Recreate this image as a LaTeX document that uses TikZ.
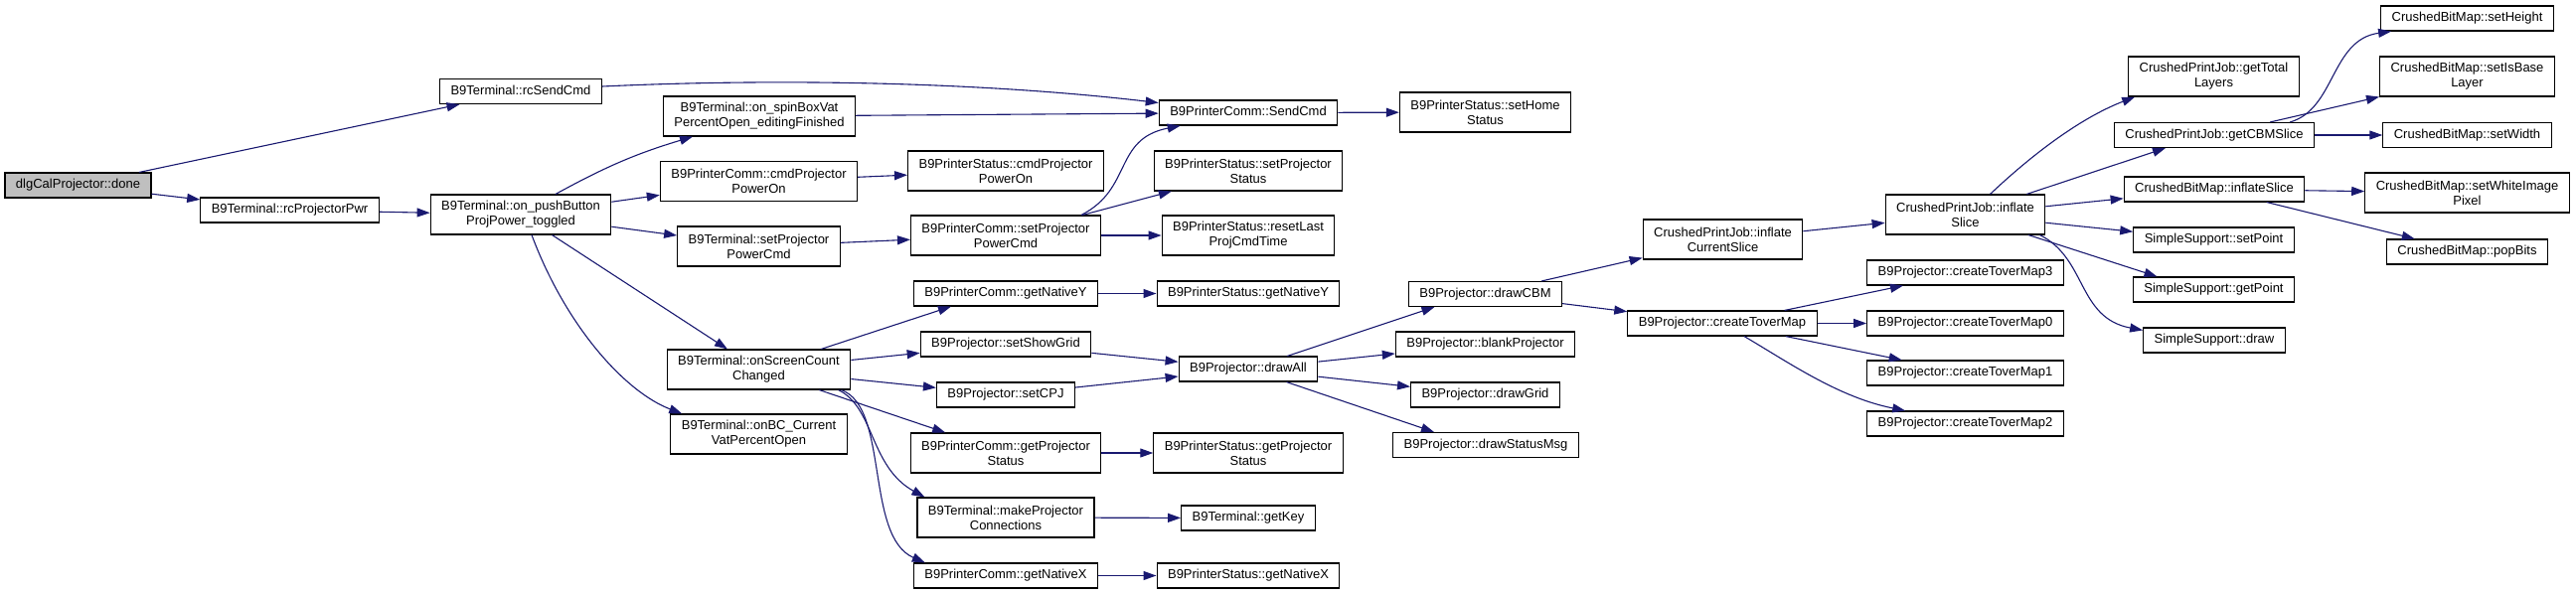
\documentclass[tikz,border=0pt]{standalone}
\usepackage{fontspec}
\setmainfont{Liberation Sans}
\usepackage{tikz}
\usetikzlibrary{arrows.meta}
\definecolor{callblue}{RGB}{25,25,112}
\tikzset{
  fn/.style={draw=black, line width=1.1pt, fill=white, inner xsep=11pt, inner ysep=0pt,
             font=\fontsize{13}{15}\selectfont, minimum height=25pt,
             text height=9.5pt, text depth=2.8pt},
  fn2/.style={draw=black, line width=1.1pt, fill=white, inner xsep=11pt, inner ysep=0pt,
              font=\fontsize{13}{15}\selectfont, minimum height=40pt, align=center},
  root/.style={fn, fill=black!25},
  call/.style={-{Triangle[length=13pt,width=9pt]}, line width=1.1pt, callblue}
}

\begin{document}
\begin{tikzpicture}[x=1pt, y=-1pt]
\useasboundingbox (0,0) rectangle (2592,599);
\node[root] (done) at (78.5,186.5) {dlgCalProjector::done};
\node[fn] (rcpwr) at (291.5,211.5) {B9Terminal::rcProjectorPwr};
\node[fn] (rcsend) at (524,92) {B9Terminal::rcSendCmd};
\node[fn2] (pushbtn) at (524,216) {B9Terminal::on\_pushButton\\ProjPower\_toggled};
\node[fn2] (spinvat) at (764,117) {B9Terminal::on\_spinBoxVat\\PercentOpen\_editingFinished};
\node[fn2] (cmdpon) at (763.5,182.5) {B9PrinterComm::cmdProjector\\PowerOn};
\node[fn2] (tsetpwr) at (763.5,248) {B9Terminal::setProjector\\PowerCmd};
\node[fn2] (scrcount) at (763.5,372) {B9Terminal::onScreenCount\\Changed};
\node[fn2] (bccur) at (763.5,437) {B9Terminal::onBC\_Current\\VatPercentOpen};
\node[fn2] (scmdpon) at (1012,172) {B9PrinterStatus::cmdProjector\\PowerOn};
\node[fn2] (csetpwr) at (1012,237) {B9PrinterComm::setProjector\\PowerCmd};
\node[fn] (cnaty) at (1012,295.5) {B9PrinterComm::getNativeY};
\node[fn] (showgrid) at (1012,346.5) {B9Projector::setShowGrid};
\node[fn] (setcpj) at (1012,397.5) {B9Projector::setCPJ};
\node[fn2] (cgetps) at (1012,456) {B9PrinterComm::getProjector\\Status};
\node[fn2] (mkconn) at (1012,521) {B9Terminal::makeProjector\\Connections};
\node[fn] (cnatx) at (1012,579.5) {B9PrinterComm::getNativeX};
\node[fn] (sendcmd) at (1256,113.5) {B9PrinterComm::SendCmd};
\node[fn2] (ssetps) at (1256,172) {B9PrinterStatus::setProjector\\Status};
\node[fn2] (resetlast) at (1256,237) {B9PrinterStatus::resetLast\\ProjCmdTime};
\node[fn] (snaty) at (1256,295.5) {B9PrinterStatus::getNativeY};
\node[fn] (drawall) at (1256,371.5) {B9Projector::drawAll};
\node[fn2] (sgetps) at (1256,456) {B9PrinterStatus::getProjector\\Status};
\node[fn] (getkey) at (1256,521.5) {B9Terminal::getKey};
\node[fn] (snatx) at (1256,579.5) {B9PrinterStatus::getNativeX};
\node[fn2] (sethome) at (1494.5,113) {B9PrinterStatus::setHome\\Status};
\node[fn] (drawcbm) at (1494.5,296) {B9Projector::drawCBM};
\node[fn] (blankproj) at (1494.5,346.5) {B9Projector::blankProjector};
\node[fn] (drawgrid) at (1494.5,397.5) {B9Projector::drawGrid};
\node[fn] (drawmsg) at (1495,448) {B9Projector::drawStatusMsg};
\node[fn2] (infcur) at (1733.5,241) {CrushedPrintJob::inflate\\CurrentSlice};
\node[fn] (tovermap) at (1733,325.5) {B9Projector::createToverMap};
\node[fn2] (infslice) at (1977.5,216) {CrushedPrintJob::inflate\\Slice};
\node[fn] (tmap3) at (1977.5,274.5) {B9Projector::createToverMap3};
\node[fn] (tmap0) at (1977.5,325.5) {B9Projector::createToverMap0};
\node[fn] (tmap1) at (1977.5,375.5) {B9Projector::createToverMap1};
\node[fn] (tmap2) at (1977.5,426.5) {B9Projector::createToverMap2};
\node[fn2] (gettotal) at (2227.5,77) {CrushedPrintJob::getTotal\\Layers};
\node[fn] (getcbm) at (2228,136) {CrushedPrintJob::getCBMSlice};
\node[fn] (bminf) at (2228,190.5) {CrushedBitMap::inflateSlice};
\node[fn] (setpt) at (2227.5,241.5) {SimpleSupport::setPoint};
\node[fn] (getpt) at (2227.5,291.5) {SimpleSupport::getPoint};
\node[fn] (ssdraw) at (2228,342.5) {SimpleSupport::draw};
\node[fn] (setheight) at (2482.5,18.5) {CrushedBitMap::setHeight};
\node[fn2] (setbase) at (2482.5,77) {CrushedBitMap::setIsBase\\Layer};
\node[fn] (setwidth) at (2482.5,136) {CrushedBitMap::setWidth};
\node[fn2] (setwhite) at (2482.5,194) {CrushedBitMap::setWhiteImage\\Pixel};
\node[fn] (popbits) at (2482.5,253.5) {CrushedBitMap::popBits};
\draw[call] (done) -- (rcsend);
\draw[call] (done) -- (rcpwr);
\draw[call] ([yshift=5pt]rcsend.east) .. controls (800,78) and (1000,84) .. ([yshift=10pt]sendcmd.west);
\draw[call] (rcpwr) -- (pushbtn);
\draw[call] (pushbtn) to[bend left=6] ([xshift=-67pt]spinvat.south);
\draw[call] (pushbtn) -- (cmdpon);
\draw[call] (pushbtn) -- (tsetpwr);
\draw[call] (pushbtn) -- (scrcount);
\draw[call] ([xshift=11pt]pushbtn.south) .. controls (570,330) and (630,395) .. ([xshift=12pt]bccur.north west);
\draw[call] (spinvat) -- (sendcmd);
\draw[call] (cmdpon) -- (scmdpon);
\draw[call] (tsetpwr) -- (csetpwr);
\draw[call] ([xshift=76pt]csetpwr.north) .. controls (1140,190) and (1120,140) .. ([xshift=22pt]sendcmd.south west);
\draw[call] (csetpwr) -- (ssetps);
\draw[call] (csetpwr) -- (resetlast);
\draw[call] (sendcmd) -- (sethome);
\draw[call] (scrcount) -- ([xshift=-55pt]cnaty.south);
\draw[call] (scrcount) -- (showgrid);
\draw[call] (scrcount) -- (setcpj);
\draw[call] (scrcount) -- (cgetps);
\draw[call] ([xshift=80pt]scrcount.south) .. controls (880,410) and (875,470) .. ([xshift=8pt]mkconn.north west);
\draw[call] ([xshift=83pt]scrcount.south) .. controls (895,410) and (870,540) .. ([xshift=12pt]cnatx.north west);
\draw[call] (cnaty) -- (snaty);
\draw[call] (showgrid) -- (drawall);
\draw[call] (setcpj) -- (drawall);
\draw[call] (cgetps) -- (sgetps);
\draw[call] (mkconn) -- (getkey);
\draw[call] (cnatx) -- (snatx);
\draw[call] (drawall) -- ([xshift=-51pt]drawcbm.south);
\draw[call] (drawall) -- (blankproj);
\draw[call] (drawall) -- (drawgrid);
\draw[call] (drawall) -- ([xshift=-52pt]drawmsg.north);
\draw[call] (drawcbm) -- (infcur);
\draw[call] (drawcbm) -- (tovermap);
\draw[call] (infcur) -- (infslice);
\draw[call] (tovermap) -- (tmap3);
\draw[call] (tovermap) -- (tmap0);
\draw[call] (tovermap) -- (tmap1);
\draw[call] ([xshift=22pt]tovermap.south) .. controls (1800,365) and (1850,400) .. ([xshift=39pt]tmap2.north west);
\draw[call] ([xshift=25pt]infslice.north) .. controls (2040,160) and (2090,120) .. ([xshift=7pt]gettotal.south west);
\draw[call] (infslice) -- ([xshift=-49pt]getcbm.south);
\draw[call] (infslice) -- (bminf);
\draw[call] (infslice) -- (setpt);
\draw[call] (infslice) -- ([xshift=-57pt]getpt.north);
\draw[call] ([xshift=-6pt]infslice.south east) .. controls (2100,260) and (2090,320) .. ([yshift=-3pt]ssdraw.north west);
\draw[call] ([xshift=-25pt]getcbm.north east) .. controls (2350,110) and (2345,40) .. ([xshift=11pt]setheight.south west);
\draw[call] (getcbm) -- (setbase);
\draw[call] (getcbm) -- (setwidth);
\draw[call] (bminf) -- (setwhite);
\draw[call] (bminf) -- (popbits);
\end{tikzpicture}
\end{document}
